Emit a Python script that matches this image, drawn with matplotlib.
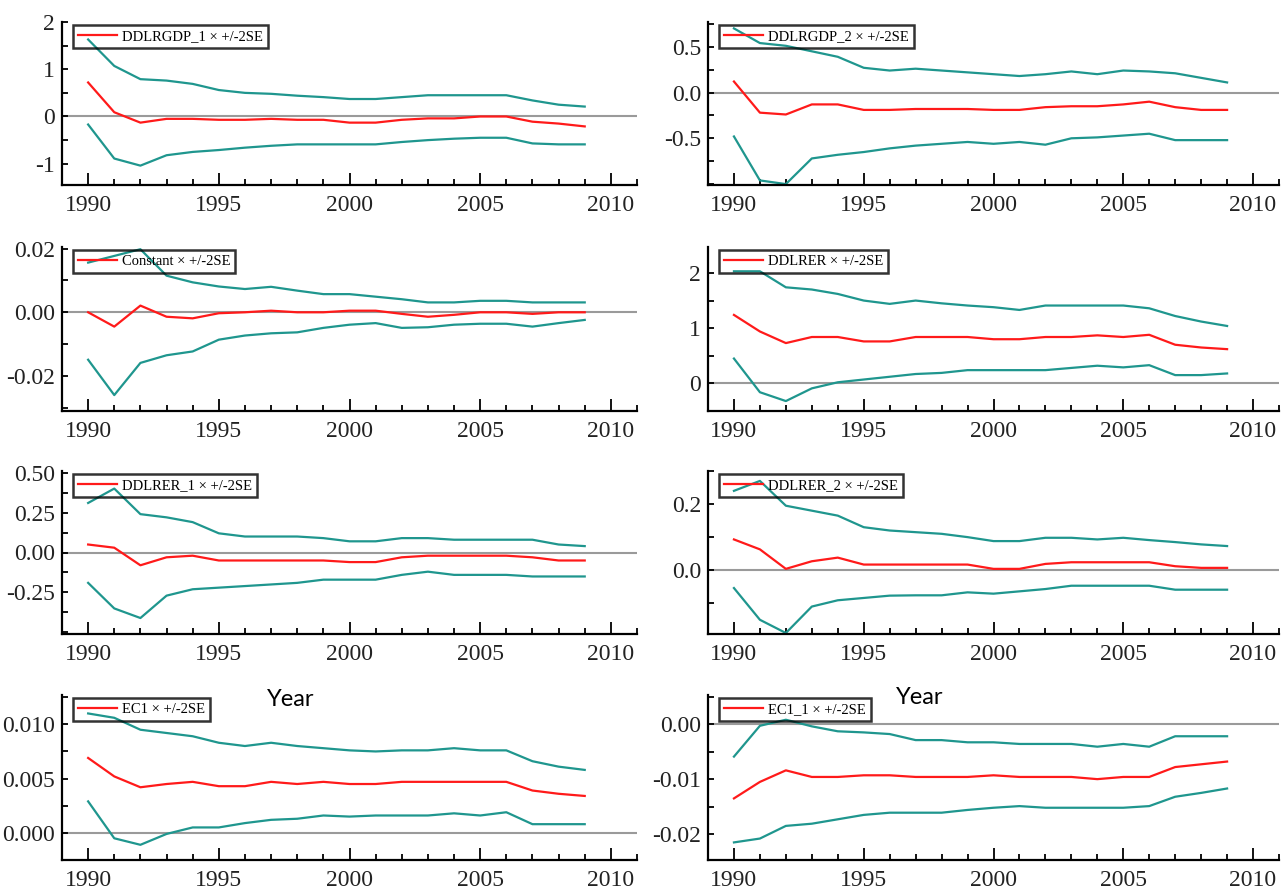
import numpy as np
import matplotlib
matplotlib.use('Agg')
import matplotlib.pyplot as plt
from matplotlib.ticker import MultipleLocator, FixedLocator, FormatStrFormatter

plt.rcParams['font.family'] = ['Liberation Serif', 'DejaVu Serif']
plt.rcParams['axes.unicode_minus'] = False

years = np.arange(1990, 2010)

# recursive coefficient estimates (red) with +/-2SE bands (teal)
ddlrgdp1_coef = [0.72, 0.09, -0.13, -0.05, -0.05, -0.07, -0.07, -0.05, -0.07, -0.07,
                 -0.13, -0.13, -0.07, -0.04, -0.04, 0.0, 0.0, -0.11, -0.15, -0.21]
ddlrgdp1_hi = [1.63, 1.07, 0.79, 0.76, 0.69, 0.56, 0.50, 0.48, 0.44, 0.41,
               0.37, 0.37, 0.41, 0.45, 0.45, 0.45, 0.45, 0.34, 0.25, 0.21]
ddlrgdp1_lo = [-0.17, -0.89, -1.04, -0.82, -0.75, -0.71, -0.66, -0.62, -0.59, -0.59,
               -0.59, -0.59, -0.54, -0.50, -0.47, -0.45, -0.45, -0.57, -0.59, -0.59]

ddlrgdp2_coef = [0.12, -0.22, -0.24, -0.13, -0.13, -0.19, -0.19, -0.18, -0.18, -0.18,
                 -0.19, -0.19, -0.16, -0.15, -0.15, -0.13, -0.10, -0.16, -0.19, -0.19]
ddlrgdp2_hi = [0.70, 0.54, 0.51, 0.45, 0.39, 0.27, 0.24, 0.26, 0.24, 0.22,
               0.20, 0.18, 0.20, 0.23, 0.20, 0.24, 0.23, 0.21, 0.16, 0.11]
ddlrgdp2_lo = [-0.48, -0.96, -1.0, -0.72, -0.68, -0.65, -0.61, -0.58, -0.56, -0.54,
               -0.56, -0.54, -0.57, -0.50, -0.49, -0.47, -0.45, -0.52, -0.52, -0.52]

const_coef = [0.0, -0.0045, 0.0021, -0.0014, -0.0019, -0.0003, 0.0, 0.0005, 0.0, 0.0,
              0.0005, 0.0005, -0.0005, -0.0014, -0.0008, 0.0, 0.0, -0.0005, 0.0, 0.0]
const_hi = [0.0156, 0.0177, 0.0198, 0.0115, 0.0094, 0.0081, 0.0073, 0.0080, 0.0068, 0.0057,
            0.0057, 0.0049, 0.0041, 0.0031, 0.0031, 0.0036, 0.0036, 0.0031, 0.0031, 0.0031]
const_lo = [-0.0149, -0.026, -0.0159, -0.0135, -0.0123, -0.0086, -0.0073, -0.0066, -0.0063, -0.0049,
            -0.0039, -0.0034, -0.0049, -0.0047, -0.0039, -0.0036, -0.0036, -0.0045, -0.0034, -0.0024]

ddlrer_coef = [1.24, 0.94, 0.73, 0.84, 0.84, 0.76, 0.76, 0.84, 0.84, 0.84,
               0.80, 0.80, 0.84, 0.84, 0.87, 0.84, 0.88, 0.70, 0.65, 0.62]
ddlrer_hi = [2.03, 2.03, 1.74, 1.70, 1.62, 1.50, 1.44, 1.50, 1.45, 1.41,
             1.38, 1.33, 1.41, 1.41, 1.41, 1.41, 1.36, 1.22, 1.12, 1.04]
ddlrer_lo = [0.45, -0.16, -0.32, -0.09, 0.02, 0.07, 0.12, 0.17, 0.19, 0.24,
             0.24, 0.24, 0.24, 0.28, 0.32, 0.29, 0.33, 0.15, 0.15, 0.18]

ddlrer1_coef = [0.05, 0.03, -0.08, -0.03, -0.02, -0.05, -0.05, -0.05, -0.05, -0.05,
                -0.06, -0.06, -0.03, -0.02, -0.02, -0.02, -0.02, -0.03, -0.05, -0.05]
ddlrer1_hi = [0.31, 0.40, 0.24, 0.22, 0.19, 0.12, 0.10, 0.10, 0.10, 0.09,
              0.07, 0.07, 0.09, 0.09, 0.08, 0.08, 0.08, 0.08, 0.05, 0.04]
ddlrer1_lo = [-0.19, -0.35, -0.41, -0.27, -0.23, -0.22, -0.21, -0.20, -0.19, -0.17,
              -0.17, -0.17, -0.14, -0.12, -0.14, -0.14, -0.14, -0.15, -0.15, -0.15]

ddlrer2_coef = [0.093, 0.063, 0.004, 0.027, 0.038, 0.017, 0.017, 0.017, 0.017, 0.017,
                0.004, 0.004, 0.019, 0.024, 0.024, 0.024, 0.024, 0.012, 0.007, 0.007]
ddlrer2_hi = [0.24, 0.27, 0.195, 0.18, 0.165, 0.13, 0.12, 0.115, 0.11, 0.10,
              0.088, 0.088, 0.098, 0.098, 0.093, 0.098, 0.091, 0.085, 0.078, 0.073]
ddlrer2_lo = [-0.054, -0.15, -0.19, -0.11, -0.091, -0.084, -0.077, -0.076, -0.076, -0.067,
              -0.071, -0.064, -0.057, -0.047, -0.047, -0.047, -0.047, -0.059, -0.059, -0.059]

ec1_coef = [0.0069, 0.0052, 0.0042, 0.0045, 0.0047, 0.0043, 0.0043, 0.0047, 0.0045, 0.0047,
            0.0045, 0.0045, 0.0047, 0.0047, 0.0047, 0.0047, 0.0047, 0.0039, 0.0036, 0.0034]
ec1_hi = [0.0110, 0.0106, 0.0095, 0.0092, 0.0089, 0.0083, 0.0080, 0.0083, 0.0080, 0.0078,
          0.0076, 0.0075, 0.0076, 0.0076, 0.0078, 0.0076, 0.0076, 0.0066, 0.0061, 0.0058]
ec1_lo = [0.0029, -0.0005, -0.0011, -0.0001, 0.0005, 0.0005, 0.0009, 0.0012, 0.0013, 0.0016,
          0.0015, 0.0016, 0.0016, 0.0016, 0.0018, 0.0016, 0.0019, 0.0008, 0.0008, 0.0008]

ec1_1_coef = [-0.0135, -0.0105, -0.0084, -0.0096, -0.0096, -0.0093, -0.0093, -0.0096, -0.0096, -0.0096,
              -0.0093, -0.0096, -0.0096, -0.0096, -0.0100, -0.0096, -0.0096, -0.0078, -0.0073, -0.0068]
ec1_1_hi = [-0.0059, -0.0003, 0.0008, -0.0004, -0.0013, -0.0015, -0.0018, -0.0029, -0.0029, -0.0033,
            -0.0033, -0.0036, -0.0036, -0.0036, -0.0041, -0.0036, -0.0041, -0.0022, -0.0022, -0.0022]
ec1_1_lo = [-0.0215, -0.0208, -0.0185, -0.0181, -0.0173, -0.0165, -0.0161, -0.0161, -0.0161, -0.0156,
            -0.0152, -0.0149, -0.0152, -0.0152, -0.0152, -0.0152, -0.0149, -0.0132, -0.0125, -0.0117]

names = ['DDLRGDP_1', 'DDLRGDP_2', 'Constant', 'DDLRER',
         'DDLRER_1', 'DDLRER_2', 'EC1', 'EC1_1']
coefs = [ddlrgdp1_coef, ddlrgdp2_coef, const_coef, ddlrer_coef,
         ddlrer1_coef, ddlrer2_coef, ec1_coef, ec1_1_coef]
highs = [ddlrgdp1_hi, ddlrgdp2_hi, const_hi, ddlrer_hi,
         ddlrer1_hi, ddlrer2_hi, ec1_hi, ec1_1_hi]
lows = [ddlrgdp1_lo, ddlrgdp2_lo, const_lo, ddlrer_lo,
        ddlrer1_lo, ddlrer2_lo, ec1_lo, ec1_1_lo]

# y axis setup per panel: limits, labelled ticks, minor step, label format
ylims = [(-1.45, 2.0), (-1.01, 0.77), (-0.031, 0.0205), (-0.5, 2.47),
         (-0.51, 0.51), (-0.193, 0.30), (-0.0025, 0.0127), (-0.0247, 0.0053)]
yticks = [[-1, 0, 1, 2], [-0.5, 0, 0.5], [-0.02, 0, 0.02], [0, 1, 2],
          [-0.25, 0, 0.25, 0.5], [0, 0.2], [0, 0.005, 0.01], [-0.02, -0.01, 0]]
yminor = [0.5, 0.25, 0.01, 0.5, 0.125, 0.1, 0.0025, 0.005]
yfmt = ['%d', '%.1f', '%.2f', '%d', '%.2f', '%.1f', '%.3f', '%.2f']

RED = '#ff1a1a'
TEAL = '#1f968e'

W, H = 1284, 892
fig = plt.figure(figsize=(W / 100, H / 100), dpi=100)

# axes boxes in pixels (left, right) and (top, bottom)
cols = [(62, 637), (708, 1279)]
rows = [(22, 185), (247, 411), (471, 634), (695, 860)]

for i in range(8):
    r, c = divmod(i, 2)
    x0, x1 = cols[c]
    y0, y1 = rows[r]
    ax = fig.add_axes([x0 / W, 1 - y1 / H, (x1 - x0) / W, (y1 - y0) / H])

    ax.axhline(0, color='#9a9a9a', lw=1.5, zorder=1)
    ax.plot(years, highs[i], color=TEAL, lw=1.6, zorder=2)
    ax.plot(years, lows[i], color=TEAL, lw=1.6, zorder=2)
    ax.plot(years, coefs[i], color=RED, lw=1.6, zorder=3,
            label=names[i] + ' \u00d7 +/-2SE')

    ax.set_xlim(1989, 2011)
    ax.set_ylim(*ylims[i])

    ax.spines['top'].set_visible(False)
    ax.spines['right'].set_visible(False)
    ax.spines['left'].set_linewidth(1.6)
    ax.spines['bottom'].set_linewidth(1.6)

    ax.xaxis.set_major_locator(MultipleLocator(5))
    ax.xaxis.set_minor_locator(MultipleLocator(1))
    ax.yaxis.set_major_locator(FixedLocator(yticks[i]))
    ax.yaxis.set_minor_locator(MultipleLocator(yminor[i]))
    ax.yaxis.set_major_formatter(FormatStrFormatter(yfmt[i]))

    ax.tick_params(axis='x', which='major', direction='in', length=9, width=1.3,
                   labelsize=17, pad=7.5)
    ax.tick_params(axis='x', which='minor', direction='in', length=4, width=1.3)
    ax.tick_params(axis='y', which='both', direction='in', length=4, width=1.3,
                   labelsize=17, pad=5)
    ax.tick_params(axis='both', colors='black', labelcolor='#222222')

    leg = ax.legend(loc='upper left',
                    bbox_to_anchor=(11 / (x1 - x0), 1 - 3 / (y1 - y0)),
                    borderaxespad=0, fontsize=10.5, handlelength=2.7,
                    handletextpad=0.3, borderpad=0.35, fancybox=False,
                    frameon=True, facecolor='none')
    leg.get_frame().set_edgecolor('black')
    leg.get_frame().set_linewidth(1.8)

# stray axis captions between rows 3 and 4
fig.text(291 / W, 1 - 700 / H, 'Year', family='Lato', fontsize=17,
         ha='center', va='center')
fig.text(920 / W, 1 - 698 / H, 'Year', family='Lato', fontsize=17,
         ha='center', va='center')

plt.savefig('out.png', dpi=100)
plt.close()
